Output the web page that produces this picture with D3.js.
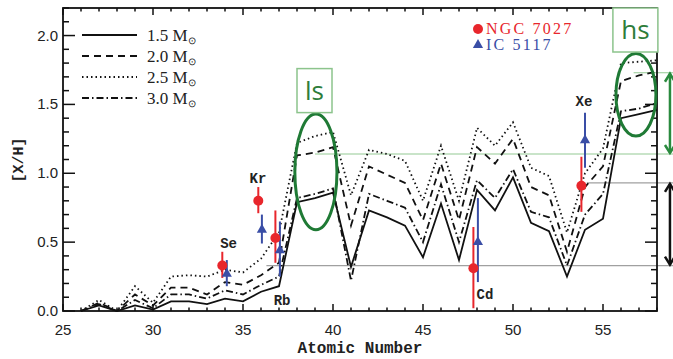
<!DOCTYPE html>
<meta charset="utf-8">
<script src="https://d3js.org/d3.v7.min.js"></script>
<style>
  body { margin: 0; background: #fff; }
</style>
<body>
<div id="chart"></div>
<script>
// atomic numbers of the model predictions
var Z = d3.range(26, 59);
// [X/H] predictions, one list per initial mass
var m15 = [0.00,0.04,0.00,0.04,0.01,0.07,0.07,0.05,0.09,0.07,0.14,0.18,0.79,0.82,0.86,0.32,0.73,0.68,0.62,0.39,0.78,0.37,0.88,0.73,0.97,0.64,0.58,0.25,0.59,0.67,1.40,1.43,1.46];
var m20 = [0.00,0.06,0.00,0.12,0.04,0.17,0.17,0.12,0.21,0.19,0.26,0.35,1.13,1.15,1.19,0.62,1.05,0.99,0.93,0.66,1.07,0.66,1.19,1.07,1.25,0.90,0.84,0.43,0.90,1.05,1.67,1.71,1.74];
var m25 = [0.00,0.08,0.00,0.18,0.06,0.25,0.26,0.25,0.30,0.28,0.38,0.57,1.22,1.27,1.30,0.84,1.17,1.14,1.09,0.80,1.20,0.80,1.33,1.20,1.37,1.04,0.98,0.57,1.00,1.18,1.80,1.81,1.82];
var m30 = [0.00,0.05,0.00,0.08,0.02,0.12,0.12,0.09,0.15,0.12,0.19,0.25,0.82,0.85,0.89,0.22,0.85,0.80,0.75,0.50,0.92,0.50,0.95,0.82,1.03,0.72,0.68,0.33,0.70,0.85,1.45,1.47,1.51];
var modelNames = ["1.5", "2.0", "2.5", "3.0"];
var modelDash = ["none", "7,5", "1.5,3", "7,3,1.5,3"];

// observed abundances
var ngc = [
  {el: "Se", z: 33.85, v: 0.33, lo: 0.24, hi: 0.43},
  {el: "Kr", z: 35.85, v: 0.80, lo: 0.71, hi: 0.90},
  {el: "Rb", z: 36.8,  v: 0.53, lo: 0.35, hi: 0.73},
  {el: "Cd", z: 47.8,  v: 0.31, lo: 0.02, hi: 0.61},
  {el: "Xe", z: 53.8,  v: 0.91, lo: 0.72, hi: 1.12}
];
var ic = [
  {el: "Se", z: 34.1,  v: 0.27, lo: 0.18, hi: 0.37},
  {el: "Kr", z: 36.05, v: 0.59, lo: 0.49, hi: 0.70},
  {el: "Rb", z: 37.05, v: 0.44, lo: 0.25, hi: 0.65},
  {el: "Cd", z: 48.05, v: 0.50, lo: 0.21, hi: 0.82},
  {el: "Xe", z: 54.0,  v: 1.24, lo: 1.04, hi: 1.44}
];
var elLabels = [
  {t: "Se", z: 34.2, v: 0.46},
  {t: "Kr", z: 35.83, v: 0.93},
  {t: "Rb", z: 37.17, v: 0.04},
  {t: "Cd", z: 48.44, v: 0.09},
  {t: "Xe", z: 53.94, v: 1.49}
];
var xTicks = [25, 30, 35, 40, 45, 50, 55];
var yTicks = [0.0, 0.5, 1.0, 1.5, 2.0];

var W = 673, H = 359;
var x = d3.scaleLinear().domain([25, 58]).range([63, 657]);
var y = d3.scaleLinear().domain([0, 2.2]).range([311, 8]);

var svg = d3.select("#chart").append("svg")
  .attr("width", W).attr("height", H)
  .style("font-family", "Liberation Sans, Arial, sans-serif");

// reference lines from the ls / hs averages
var refLines = [
  {z0: 39.0, v: 1.14, c: "#93c993"},
  {z0: 56.7, v: 1.73, c: "#93c993"},
  {z0: 36.3, v: 0.33, c: "#a0a0a0"},
  {z0: 54.1, v: 0.93, c: "#a0a0a0"}
];
svg.selectAll(".ref").data(refLines).enter().append("line")
  .attr("x1", d => x(d.z0)).attr("x2", W)
  .attr("y1", d => y(d.v)).attr("y2", d => y(d.v))
  .attr("stroke", d => d.c).attr("stroke-width", 1.2);

// double arrows on the right edge
function dblArrow(v1, v2, c) {
  var g = svg.append("g").attr("stroke", c).attr("stroke-width", 2.5).attr("fill", "none");
  var ax = x(58.72), y1 = y(v1), y2 = y(v2);
  g.append("line").attr("x1", ax).attr("x2", ax).attr("y1", y1 + 1).attr("y2", y2 - 1);
  g.append("path").attr("d", "M" + (ax - 5) + "," + (y1 + 9) + "L" + ax + "," + (y1 + 1) + "L" + (ax + 5) + "," + (y1 + 9));
  g.append("path").attr("d", "M" + (ax - 5) + "," + (y2 - 9) + "L" + ax + "," + (y2 - 1) + "L" + (ax + 5) + "," + (y2 - 9));
}
dblArrow(1.73, 1.14, "#2a8a3e");
dblArrow(0.93, 0.33, "#111");

// model lines
var line = d3.line().x((d, i) => x(Z[i])).y(d => y(d));
svg.selectAll(".model").data([m15, m20, m25, m30]).enter().append("path")
  .attr("d", d => line(d))
  .attr("fill", "none").attr("stroke", "#111")
  .attr("stroke-width", 1.8)
  .attr("stroke-dasharray", (d, i) => modelDash[i]);

// frame
svg.append("rect").attr("x", 63).attr("y", 8).attr("width", 594).attr("height", 303)
  .attr("fill", "none").attr("stroke", "#111").attr("stroke-width", 1.8);

// ticks (inward on all four sides)
var xMinor = d3.range(25, 59, 1), yMinor = d3.range(0, 2.21, 0.1);
function xt(g, y0, dir) {
  g.selectAll(null).data(xMinor).enter().append("line")
    .attr("x1", d => x(d)).attr("x2", d => x(d))
    .attr("y1", y0).attr("y2", d => y0 + dir * (xTicks.indexOf(d) >= 0 ? 7 : 3.5))
    .attr("stroke", "#111").attr("stroke-width", 1.5);
}
function yt(g, x0, dir) {
  g.selectAll(null).data(yMinor).enter().append("line")
    .attr("y1", d => y(d)).attr("y2", d => y(d))
    .attr("x1", x0).attr("x2", (d, i) => x0 + dir * (i % 5 === 0 ? 12 : 6))
    .attr("stroke", "#111").attr("stroke-width", 1.5);
}
var tg = svg.append("g");
xt(tg, 311, -1); xt(tg, 8, 1); yt(tg, 63, 1); yt(tg, 657, -1);

svg.selectAll(".xl").data(xTicks).enter().append("text")
  .attr("x", d => x(d)).attr("y", 335).attr("text-anchor", "middle")
  .attr("font-size", 15).attr("fill", "#222").text(d => d);
svg.selectAll(".yl").data(yTicks).enter().append("text")
  .attr("x", 58).attr("y", d => y(d) + 5).attr("text-anchor", "end")
  .attr("font-size", 15).attr("fill", "#222").text(d => d.toFixed(1));

var titleFont = "Liberation Mono, Courier New, monospace";
svg.append("text").attr("x", 360).attr("y", 353).attr("text-anchor", "middle")
  .attr("font-family", titleFont).attr("font-weight", "bold").attr("font-size", 16)
  .attr("fill", "#222").text("Atomic Number");
svg.append("text").attr("transform", "translate(23,160) rotate(-90)")
  .attr("text-anchor", "middle")
  .attr("font-family", titleFont).attr("font-weight", "bold").attr("font-size", 15)
  .attr("fill", "#222").text("[X/H]");

// error bars + markers
function errs(data, c) {
  svg.selectAll(null).data(data).enter().append("line")
    .attr("x1", d => x(d.z)).attr("x2", d => x(d.z))
    .attr("y1", d => y(d.lo)).attr("y2", d => y(d.hi))
    .attr("stroke", c).attr("stroke-width", 2);
}
var red = "#e8262c", blue = "#3a4ea6";
errs(ngc, red); errs(ic, blue);
svg.selectAll(".ngc").data(ngc).enter().append("circle")
  .attr("cx", d => x(d.z)).attr("cy", d => y(d.v)).attr("r", 5).attr("fill", red);
var tri = d3.symbol().type(d3.symbolTriangle).size(45);
svg.selectAll(".ic").data(ic).enter().append("path")
  .attr("d", tri).attr("transform", d => "translate(" + x(d.z) + "," + y(d.v) + ")")
  .attr("fill", blue);

svg.selectAll(".el").data(elLabels).enter().append("text")
  .attr("x", d => x(d.z)).attr("y", d => y(d.v)).attr("text-anchor", "middle")
  .attr("font-family", titleFont).attr("font-weight", "bold").attr("font-size", 14)
  .attr("fill", "#222").text(d => d.t);

// ls / hs annotations
var green = "#1f7a35";
var blobs = [
  {t: "ls", z: 39.05, v: 1.01, rz: 1.17, rv: 0.42, bz: 38.0, bv: 1.76, bw: 35, bh: 44},
  {t: "hs", z: 56.83, v: 1.57, rz: 1.11, rv: 0.30, bz: 55.55, bv: 2.2, bw: 45, bh: 44}
];
blobs.forEach(function (b) {
  svg.append("ellipse").attr("cx", x(b.z)).attr("cy", y(b.v))
    .attr("rx", x(b.z + b.rz) - x(b.z)).attr("ry", y(b.v - b.rv) - y(b.v))
    .attr("fill", "none").attr("stroke", green).attr("stroke-width", 3);
  svg.append("rect").attr("x", x(b.bz)).attr("y", y(b.bv)).attr("width", b.bw).attr("height", b.bh)
    .attr("fill", "#fff").attr("stroke", "#8cc48c").attr("stroke-width", 1.5);
  svg.append("text").attr("x", x(b.bz) + b.bw / 2).attr("y", y(b.bv) + 31)
    .attr("text-anchor", "middle").attr("font-size", 26).attr("fill", "#2e7d3a")
    .attr("font-family", "Open Sans, sans-serif").text(b.t);
});

// legend for models
var lg = svg.append("g");
modelNames.forEach(function (n, i) {
  var ly = 35 + i * 21;
  lg.append("line").attr("x1", 82).attr("x2", 137).attr("y1", ly).attr("y2", ly)
    .attr("stroke", "#111").attr("stroke-width", 1.8).attr("stroke-dasharray", modelDash[i]);
  var t = lg.append("text").attr("x", 147).attr("y", ly + 6)
    .attr("font-family", "Liberation Serif, Times New Roman, serif").attr("font-size", 17)
    .attr("fill", "#222");
  t.append("tspan").text(n + " M");
  t.append("tspan").attr("font-size", 10).attr("dy", 3).text("\u2299");
});

// legend for nebulae
var serif = "Liberation Serif, Times New Roman, serif";
svg.append("circle").attr("cx", 478).attr("cy", 29).attr("r", 5).attr("fill", red);
svg.append("text").attr("x", 486).attr("y", 34).attr("font-family", serif).attr("font-size", 16)
  .attr("letter-spacing", 2.2).attr("fill", red).text("NGC 7027");
svg.append("path").attr("d", tri).attr("transform", "translate(478,45)").attr("fill", blue);
svg.append("text").attr("x", 486).attr("y", 50).attr("font-family", serif).attr("font-size", 16)
  .attr("letter-spacing", 2.2).attr("fill", blue).text("IC 5117");
</script>
</body>
